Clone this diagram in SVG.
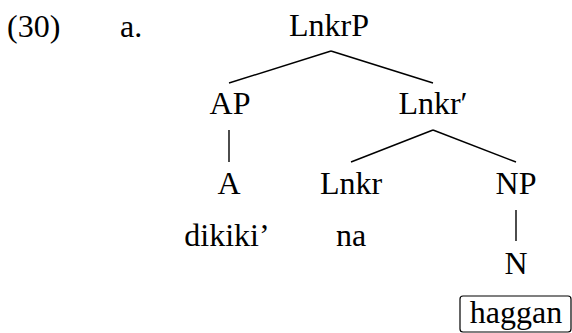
<svg xmlns="http://www.w3.org/2000/svg" width="572" height="333" viewBox="0 0 572 333">
<style>
text{font-family:"Liberation Serif","Times New Roman",serif;font-size:32px;fill:#000;text-anchor:middle}
.l{text-anchor:start}
line{stroke:#000;stroke-width:1.4}
.box{fill:none;stroke:#000;stroke-width:1.2}
</style>
<rect width="572" height="333" fill="#fff"/>
<g id="label"><text class="l" x="7" y="37">(30)</text><text class="l" x="120" y="37">a.</text></g>
<g id="connectors">
<line x1="331" y1="51" x2="229" y2="83"/>
<line x1="331" y1="51" x2="433" y2="83"/>
<line x1="229" y1="130" x2="229" y2="162"/>
<line x1="433" y1="130" x2="351" y2="162"/>
<line x1="433" y1="130" x2="516" y2="162"/>
<line x1="516" y1="210" x2="516" y2="241"/>
</g>
<g id="LnkrP"><text x="329" y="36">LnkrP</text></g>
<g id="AP"><text x="230" y="114">AP</text></g>
<g id="Lnkrbar"><text x="433" y="114">Lnkr′</text></g>
<g id="A"><text x="229" y="194">A</text></g>
<g id="Lnkr"><text x="351" y="194">Lnkr</text></g>
<g id="NP"><text x="516" y="194">NP</text></g>
<g id="dikiki"><text x="227" y="246">dikiki’</text></g>
<g id="na"><text x="351" y="246">na</text></g>
<g id="N"><text x="516" y="274">N</text></g>
<g id="haggan"><rect class="box" x="460" y="296" width="111" height="36" rx="3"/><text x="516" y="323">haggan</text></g>
</svg>
